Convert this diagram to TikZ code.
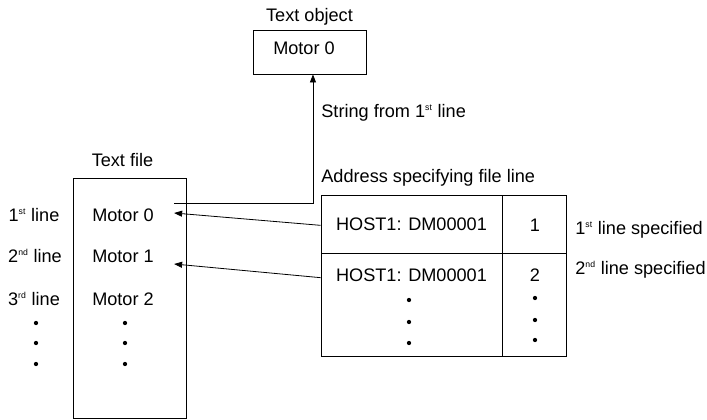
\documentclass[tikz,border=0pt]{standalone}
\usepackage{fontspec}
\setmainfont{Liberation Sans}
\usetikzlibrary{arrows.meta,positioning}
\newcommand{\lnsup}[1]{\textsuperscript{\fontsize{6.5}{8}\selectfont #1}}

\begin{document}
\begin{tikzpicture}[x=0.75pt, y=-0.75pt, line width=0.6pt,
    every node/.style={font=\fontsize{13.6}{15}\selectfont, inner sep=0pt},
    box/.style={draw, rectangle, minimum width=84.75pt},
    dot/.style={circle, fill, inner sep=0pt, minimum size=3.2pt},
    tip/.style={-{Triangle[length=6pt,width=4.5pt]}}]
    \useasboundingbox (0,0) rectangle (707,419);
    % Text object
    \node[box, minimum height=33pt] (objbox) at (309.5,52) {};
    \node (objlbl) at (309.5,17) {Text object};
    \node (objtxt) at (304,48) {Motor 0};
    % Text file
    \node[box, minimum height=180pt] (filebox) at (129.5,298) {};
    \node (filelbl) at (122.5,160) {Text file};
    \node (motA) at (123,215) {Motor 0};
    \node (motB) at (123,256) {Motor 1};
    \node (motC) at (123,299) {Motor 2};
    \node (lineA) at (34,215) {1\lnsup{st} line};
    \node (lineB) at (35,256) {2\lnsup{nd} line};
    \node (lineC) at (34,299) {3\lnsup{rd} line};
    \foreach \y [count=\i] in {323,343,364} {
      \node[dot] (ldot\i) at (36,\y) {};
      \node[dot] (mdot\i) at (125,\y) {};
    }
    % Address table
    \node[anchor=west] (tbllbl) at (321,178) {Address specifying file line};
    \draw (321,195) rectangle (566,356);
    \draw (502,195) -- (502,356);
    \draw (321,253) -- (566,253);
    \node[minimum width=135.75pt, minimum height=43.5pt] (hostA) at (411.5,224) {HOST1: DM00001};
    \node[minimum width=135.75pt, minimum height=43.5pt] (hostB) at (411.5,275) {HOST1: DM00001};
    \node (numA) at (535,225) {1};
    \node (numB) at (535,275) {2};
    \foreach \y [count=\i] in {300,322,343} {
      \node[dot] (hdot\i) at (409,\y) {};
    }
    \foreach \y [count=\i] in {298,320,340} {
      \node[dot] (ndot\i) at (535,\y) {};
    }
    \node[anchor=west] (specA) at (575,230) {1\lnsup{st} line specified};
    \node[anchor=west] (specB) at (575,270) {2\lnsup{nd} line specified};
    % Connectors
    \coordinate (srcA) at (174,203);
    \draw[tip] (srcA) -| ([xshift=2.6pt]objbox.south);
    \node[anchor=west] (strlbl) at (321,113) {String from 1\lnsup{st} line};
    \draw[tip] ([yshift=-1pt]hostA.west) -- ([xshift=15pt,yshift=1.5pt]motA.east);
    \draw[tip] ([yshift=-2pt]hostB.west) -- ([xshift=15pt,yshift=-6pt]motB.east);
\end{tikzpicture}
\end{document}
